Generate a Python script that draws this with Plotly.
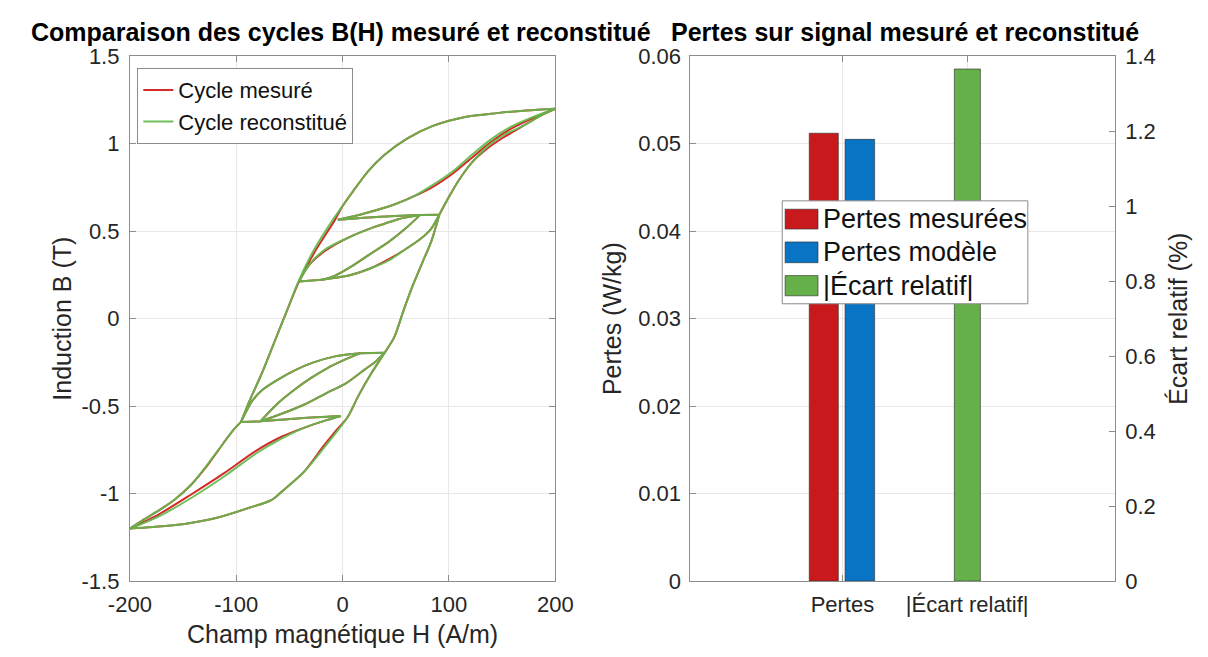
import plotly.graph_objects as go

# ---------------- Left panel: B(H) cycles ----------------
# Branches are separated by None so that each branch is drawn as its own smooth curve.
H_meas = [
    200, 172.7, 145.5, 115.2, 84.9, 60.6, 39.5, 24.3, 10.6, 0, -7.5, -25.7, -40.9, -54, -63.6, -75.7, -87.8, -95.5, None,
    -95.5, -77.3, None,
    -77.3, -58, -36.4, -15, 3, 21, 32, 39.5, None,
    39.5, 16.7, None,
    16.7, -6, -27.3, -45, -60, -75, -85, -91, -95.5, None,
    -95.5, -103, -112.1, -127.3, -142.4, -157.5, -172.7, -187.8, -200, None,
    -200, -178.7, -148.5, -118.2, -87.8, -66.6, -57.5, -36.4, -18.2, -6, 4.5, 15.2, 27.3, 39.5, 48.5, 57.5, 66, 75.8, 83.4, 90.9, None,
    90.9, 72.7, None,
    72.7, 53.1, 39.5, 28.8, 4.5, -16.6, -31.8, -40.9, None,
    -40.9, -19.6, None,
    -19.6, 7.6, 25.8, 44, 59.1, 74.3, 83.4, 90.9, None,
    90.9, 98.5, 109.1, 121.3, 136.4, 151.5, 169.7, 187.9, 200, None,
    200, 175.8, 157.6, 139.5, 121.3, 103.1, 84.9, 66.7, 48.5, 21.3, -4.5, None,
    -4.5, 34.9, 72.7, None,
    72.7, 59.1, 44, 25.8, 7.6, -7.5, -19.6, None,
    -200, -172.7, -142.4, -112.1, -81.8, -57.5, -36.4, -15.1, -1.5, None,
    -1.5, -39.4, -77.3, None,
    -77.3, -62, -45, -30, -15, 0, 16.7,
]
B_meas = [
    1.2, 1.19, 1.175, 1.153, 1.102, 1.029, 0.937, 0.845, 0.735, 0.644, 0.562, 0.387, 0.213, 0.02, -0.125, -0.309, -0.474, -0.59, None,
    -0.59, -0.587, None,
    -0.587, -0.545, -0.492, -0.425, -0.37, -0.29, -0.24, -0.195, None,
    -0.195, -0.197, None,
    -0.197, -0.214, -0.25, -0.295, -0.345, -0.405, -0.47, -0.535, -0.59, None,
    -0.59, -0.638, -0.712, -0.84, -0.949, -1.032, -1.096, -1.151, -1.2, None,
    -1.2, -1.191, -1.173, -1.138, -1.081, -1.035, -0.99, -0.876, -0.73, -0.638, -0.565, -0.437, -0.309, -0.195, -0.107, 0.05, 0.19, 0.332, 0.442, 0.594, None,
    0.594, 0.592, None,
    0.592, 0.57, 0.543, 0.522, 0.461, 0.387, 0.305, 0.213, None,
    0.213, 0.223, None,
    0.223, 0.25, 0.287, 0.342, 0.397, 0.461, 0.515, 0.594, None,
    0.594, 0.68, 0.79, 0.891, 0.974, 1.037, 1.102, 1.166, 1.2, None,
    1.2, 1.138, 1.083, 1.01, 0.919, 0.827, 0.754, 0.699, 0.653, 0.603, 0.565, None,
    0.565, 0.582, 0.592, None,
    0.592, 0.515, 0.442, 0.369, 0.296, 0.245, 0.223, None,
    -1.2, -1.118, -1.005, -0.886, -0.757, -0.675, -0.624, -0.58, -0.556, None,
    -0.556, -0.569, -0.587, None,
    -0.587, -0.49, -0.405, -0.34, -0.285, -0.24, -0.197,
]

H_rec = [
    200, 172.7, 145.5, 115.2, 84.9, 60.6, 39.5, 24.3, 10.6, 0, -9.5, -27.5, -41.5, -54, -63.6, -75.7, -87.8, -95.5, None,
    -95.5, -77.3, None,
    -77.3, -58, -36.4, -15, 3, 21, 32, 39.5, None,
    39.5, 16.7, None,
    16.7, -6, -27.3, -45, -60, -75, -85, -91, -95.5, None,
    -95.5, -103, -112.1, -127.3, -142.4, -157.5, -172.7, -187.8, -200, None,
    -200, -178.7, -148.5, -118.2, -87.8, -66.6, -57.5, -36.4, -16.5, -4.5, 4.5, 15.2, 27.3, 39.5, 48.5, 57.5, 66, 75.8, 83.4, 90.9, None,
    90.9, 72.7, None,
    72.7, 53.1, 39.5, 28.8, 4.5, -16.6, -31.8, -40.9, None,
    -40.9, -19.6, None,
    -19.6, 7.6, 25.8, 44, 59.1, 74.3, 83.4, 90.9, None,
    90.9, 98.5, 109.1, 121.3, 136.4, 151.5, 169.7, 187.9, 200, None,
    200, 175.8, 157.6, 139.5, 121.3, 103.1, 84.9, 66.7, 48.5, 21.3, -4.5, None,
    -4.5, 34.9, 72.7, None,
    72.7, 59.1, 44, 25.8, 7.6, -7.5, -19.6, None,
    -200, -172.7, -142.4, -112.1, -81.8, -57.5, -36.4, -15.1, -1.5, None,
    -1.5, -39.4, -77.3, None,
    -77.3, -62, -45, -30, -15, 0, 16.7,
]
B_rec = [
    1.2, 1.19, 1.175, 1.153, 1.102, 1.029, 0.937, 0.845, 0.735, 0.644, 0.562, 0.387, 0.213, 0.02, -0.125, -0.309, -0.474, -0.59, None,
    -0.59, -0.587, None,
    -0.587, -0.545, -0.492, -0.425, -0.37, -0.29, -0.24, -0.195, None,
    -0.195, -0.197, None,
    -0.197, -0.214, -0.25, -0.295, -0.345, -0.405, -0.47, -0.535, -0.59, None,
    -0.59, -0.638, -0.712, -0.835, -0.949, -1.032, -1.096, -1.151, -1.2, None,
    -1.2, -1.191, -1.173, -1.138, -1.081, -1.035, -0.99, -0.876, -0.73, -0.638, -0.565, -0.437, -0.309, -0.195, -0.107, 0.05, 0.19, 0.332, 0.442, 0.594, None,
    0.594, 0.592, None,
    0.592, 0.57, 0.543, 0.522, 0.461, 0.395, 0.305, 0.213, None,
    0.213, 0.223, None,
    0.223, 0.25, 0.287, 0.335, 0.397, 0.461, 0.515, 0.594, None,
    0.594, 0.68, 0.79, 0.891, 0.985, 1.05, 1.102, 1.166, 1.2, None,
    1.2, 1.145, 1.095, 1.025, 0.935, 0.84, 0.765, 0.699, 0.653, 0.603, 0.565, None,
    0.565, 0.582, 0.592, None,
    0.592, 0.515, 0.442, 0.369, 0.296, 0.245, 0.223, None,
    -1.2, -1.13, -1.025, -0.905, -0.772, -0.685, -0.624, -0.58, -0.556, None,
    -0.556, -0.569, -0.587, None,
    -0.587, -0.49, -0.405, -0.34, -0.285, -0.24, -0.197,
]

H_ticks = [-200, -100, 0, 100, 200]
H_tick_labels = ["-200", "-100", "0", "100", "200"]
B_ticks = [-1.5, -1, -0.5, 0, 0.5, 1, 1.5]
B_tick_labels = ["-1.5", "-1", "-0.5", "0", "0.5", "1", "1.5"]

# ---------------- Right panel: losses ----------------
categories = ["Pertes", "|Écart relatif|"]
pertes_mesurees = [0.0512]
pertes_modele = [0.0505]
ecart_relatif = [1.366]
series_names = ["Pertes mesurées", "Pertes modèle", "|Écart relatif|"]
P_ticks = [0, 0.01, 0.02, 0.03, 0.04, 0.05, 0.06]
P_tick_labels = ["0", "0.01", "0.02", "0.03", "0.04", "0.05", "0.06"]
E_ticks = [0, 0.2, 0.4, 0.6, 0.8, 1.0, 1.2, 1.4]
E_tick_labels = ["0", "0.2", "0.4", "0.6", "0.8", "1", "1.2", "1.4"]

# ---------------- Styling ----------------
W, HGT = 1208, 657
FONT = "Liberation Sans, Arial, Helvetica, sans-serif"
TXT = "#262626"
AXC = "#8c8c8c"
GRID = "#e8e8e8"
RED_LINE = "#d42a2a"
GREEN_LINE = "#62ba4d"
RED_BAR = "#c8191c"
BLUE_BAR = "#0a74c4"
GREEN_BAR = "#66b04a"
BAR_EDGE = "#2a2a2a"


def fx(px):
    return px / W


def fy(py):
    return 1 - py / HGT


fig = go.Figure()

fig.add_trace(go.Scatter(x=H_meas, y=B_meas, mode="lines", name="Cycle mesuré",
                         line=dict(color=RED_LINE, width=2, shape="spline", smoothing=0.8),
                         xaxis="x", yaxis="y", legend="legend", connectgaps=False))
fig.add_trace(go.Scatter(x=H_rec, y=B_rec, mode="lines", name="Cycle reconstitué",
                         line=dict(color=GREEN_LINE, width=2, shape="spline", smoothing=0.8),
                         opacity=0.92, xaxis="x", yaxis="y", legend="legend", connectgaps=False))

fig.add_trace(go.Bar(x=[categories[0]], y=pertes_mesurees, name=series_names[0],
                     marker=dict(color=RED_BAR, line=dict(color=BAR_EDGE, width=0.6)),
                     offset=-0.266, width=0.233, xaxis="x2", yaxis="y2", showlegend=False))
fig.add_trace(go.Bar(x=[categories[0]], y=pertes_modele, name=series_names[1],
                     marker=dict(color=BLUE_BAR, line=dict(color=BAR_EDGE, width=0.6)),
                     offset=0.021, width=0.237, xaxis="x2", yaxis="y2", showlegend=False))
fig.add_trace(go.Bar(x=[categories[1]], y=ecart_relatif, name=series_names[2],
                     marker=dict(color=GREEN_BAR, line=dict(color=BAR_EDGE, width=0.6)),
                     offset=-0.103, width=0.209, xaxis="x2", yaxis="y3", showlegend=False))

ydom = [fy(583.3), fy(37.7)]
axis_common = dict(showline=True, linecolor=AXC, linewidth=1, ticks="inside", ticklen=6,
                   tickcolor=AXC, gridcolor=GRID, gridwidth=1, zeroline=False,
                   tickfont=dict(family=FONT, size=22, color=TXT))

fig.update_layout(
    width=W, height=HGT,
    margin=dict(l=0, r=0, t=0, b=0),
    paper_bgcolor="white", plot_bgcolor="white",
    font=dict(family=FONT, color=TXT),
    barmode="overlay",
    xaxis=dict(domain=[fx(103.3), fx(543.3)], range=[-200, 200], tickvals=H_ticks, ticktext=H_tick_labels,
               mirror="ticks", showgrid=True, anchor="y", ticklabelstandoff=3,
               title=dict(text="Champ magnétique H (A/m)", font=dict(family=FONT, size=25, color=TXT), standoff=9),
               **axis_common),
    yaxis=dict(domain=ydom, range=[-1.5, 1.5], tickvals=B_ticks, ticktext=B_tick_labels,
               mirror="ticks", showgrid=True, anchor="x", ticklabelstandoff=5,
               title=dict(text="Induction B (T)", font=dict(family=FONT, size=25, color=TXT), standoff=2),
               **axis_common),
    xaxis2=dict(domain=[fx(683), fx(1122)], type="category", categoryorder="array", categoryarray=categories,
                range=[-1.219, 2.184], mirror="ticks", showgrid=True, anchor="y2", ticklabelstandoff=3,
                **axis_common),
    yaxis2=dict(domain=ydom, range=[0, 0.06], tickvals=P_ticks, ticktext=P_tick_labels, showgrid=True,
                anchor="x2", side="left", ticklabelstandoff=4,
                title=dict(text="Pertes (W/kg)", font=dict(family=FONT, size=25, color=TXT), standoff=9),
                **axis_common),
    yaxis3=dict(range=[0, 1.4], tickvals=E_ticks, ticktext=E_tick_labels, showgrid=False,
                overlaying="y2", anchor="x2", side="right", ticklabelstandoff=5,
                title=dict(text="Écart relatif (%)", font=dict(family=FONT, size=25, color=TXT), standoff=14),
                **axis_common),
    legend=dict(x=fx(111), y=fy(50), xanchor="left", yanchor="top", bgcolor="white",
                bordercolor=AXC, borderwidth=1, font=dict(family=FONT, size=22, color="#111111"),
                itemwidth=30, tracegroupgap=0),
)

annotations = [
    dict(text="<b>Comparaison des cycles B(H) mesuré et reconstitué</b>", x=fx(321.5), y=fy(12),
         xref="paper", yref="paper", xanchor="center", yanchor="middle", showarrow=False,
         font=dict(family=FONT, size=25, color="#000000")),
    dict(text="<b>Pertes sur signal mesuré et reconstitué</b>", x=fx(904.5), y=fy(12),
         xref="paper", yref="paper", xanchor="center", yanchor="middle", showarrow=False,
         font=dict(family=FONT, size=25, color="#000000")),
]

# Custom legend for the bar panel
shapes = [dict(type="rect", xref="paper", yref="paper", x0=fx(778), x1=fx(1032), y0=fy(295), y1=fy(188),
               line=dict(color=AXC, width=1), fillcolor="white", layer="above")]
patch_rows = [(196.7, 217.3), (230.7, 252.3), (265.7, 286.7)]
patch_colors = [RED_BAR, BLUE_BAR, GREEN_BAR]
for (top, bot), col, name in zip(patch_rows, patch_colors, series_names):
    shapes.append(dict(type="rect", xref="paper", yref="paper", x0=fx(781), x1=fx(815), y0=fy(bot), y1=fy(top),
                       line=dict(color=BAR_EDGE, width=0.6), fillcolor=col, layer="above"))
    annotations.append(dict(text=name, x=fx(818), y=fy((top + bot) / 2), xref="paper", yref="paper",
                            xanchor="left", yanchor="middle", showarrow=False,
                            font=dict(family=FONT, size=27, color="#111111")))

fig.update_layout(annotations=annotations, shapes=shapes)

fig.write_html("out.html")
